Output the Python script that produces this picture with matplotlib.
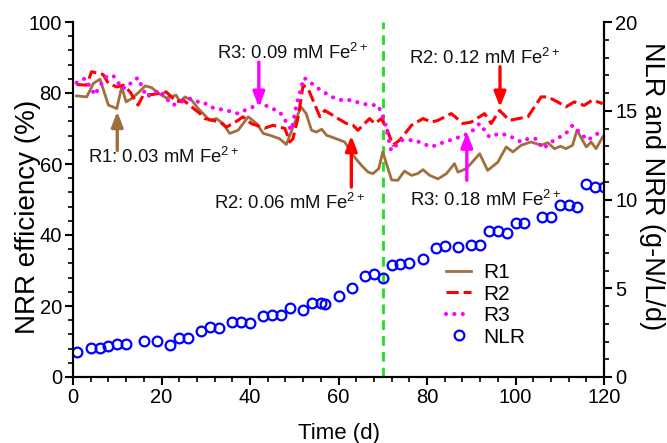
import matplotlib
matplotlib.use("Agg")
import matplotlib.pyplot as plt
from matplotlib.ticker import MultipleLocator

plt.rcParams['font.family'] = ['Liberation Sans', 'DejaVu Sans']
plt.rcParams['mathtext.fontset'] = 'custom'
plt.rcParams['mathtext.rm'] = 'Liberation Sans'
plt.rcParams['mathtext.it'] = 'Liberation Sans:italic'
plt.rcParams['mathtext.default'] = 'regular'

# NRR efficiency of the three reactors (%)
r1_day = [0.8, 3.1, 4.6, 6.1, 8.0, 9.9, 11.0, 12.0, 13.2, 14.7, 16.3, 17.8, 19.3, 21.1, 23.3,
          24.2, 25.3, 26.8, 28.3, 30.9, 32.4, 33.9, 35.4, 37.3, 39.6, 41.5, 43.0, 44.5, 46.7,
          48.2, 51.5, 52.7, 53.9, 55.0, 56.2, 57.3, 59.1, 61.4, 63.3, 65.2, 66.7, 67.8, 69.1,
          70.0, 72.0, 73.4, 74.9, 76.5, 77.9, 79.1, 80.6, 82.5, 84.4, 86.2, 87.0, 88.9, 91.9,
          93.7, 96.0, 97.9, 99.4, 101.3, 103.5, 105.8, 107.3, 108.8, 110.2, 111.4, 112.9,
          113.9, 116.0, 117.1, 118.2, 119.7]
r1_eff = [79.2, 78.9, 82.7, 83.9, 76.6, 75.6, 81.7, 77.5, 78.4, 80.0, 82.0, 81.5, 79.9, 78.6, 79.4,
          77.5, 78.9, 78.0, 75.6, 72.3, 72.8, 71.4, 68.6, 69.5, 73.3, 71.4, 68.6, 68.1, 67.1,
          65.5, 76.1, 74.2, 69.5, 69.0, 69.8, 68.1, 67.3, 66.2, 62.4, 59.6, 57.7, 57.3, 58.7,
          63.4, 55.5, 55.4, 58.0, 56.8, 57.3, 58.4, 56.8, 55.8, 57.3, 60.1, 57.7, 58.7, 62.9,
          58.2, 60.5, 64.8, 63.4, 65.3, 66.2, 65.3, 66.0, 64.3, 65.0, 64.3, 65.3,
          69.5, 64.8, 66.2, 64.3, 67.6]

r2_day = [0.8, 3.1, 4.2, 6.8, 8.0, 9.9, 11.4, 12.9, 14.7, 15.9, 18.1, 21.1, 23.4, 24.9, 28.7,
          29.8, 33.2, 34.7, 37.3, 38.4, 40.3, 43.3, 45.2, 47.9, 49.0, 49.7, 50.9, 52.0, 53.1,
          55.8, 56.9, 59.9, 61.8, 63.3, 64.4, 67.0, 68.2, 69.7, 71.2, 72.3, 73.8, 75.3, 76.5,
          79.1, 81.0, 82.5, 85.5, 88.1, 90.0, 93.0, 94.5, 96.4, 98.6, 102.8, 105.8, 107.3,
          109.5, 111.4, 113.3, 115.5, 117.4, 119.7]
r2_eff = [82.4, 82.2, 86.0, 85.2, 82.7, 81.7, 82.2, 80.3, 76.6, 79.4, 79.6, 80.3, 77.5, 78.0, 74.2,
          72.8, 71.8, 70.4, 72.3, 73.3, 71.4, 70.1, 70.9, 70.0, 66.2, 67.1, 73.3, 82.2, 81.3,
          73.3, 75.1, 72.8, 71.4, 70.9, 69.5, 72.8, 71.4, 72.8, 69.0, 65.3, 66.7, 69.0, 70.9,
          72.8, 71.8, 72.3, 74.2, 71.4, 71.8, 74.2, 71.4, 75.1, 72.3, 73.3, 78.9, 78.9,
          77.5, 76.1, 77.5, 76.5, 78.0, 77.0]

r3_day = [0.8, 2.7, 5.0, 5.7, 7.5, 9.0, 9.9, 11.0, 12.5, 13.2, 14.7, 16.6, 19.6, 21.1, 22.6,
          24.5, 26.4, 28.3, 29.4, 30.9, 32.4, 34.7, 37.3, 38.8, 40.7, 42.2, 44.1, 46.7, 48.2,
          49.4, 50.5, 52.2, 53.5, 55.4, 58.4, 60.7, 62.9, 65.2, 67.4, 68.9, 70.4, 71.9, 74.2,
          77.2, 81.0, 82.8, 86.2, 88.5, 90.4, 91.9, 94.1, 96.4, 98.3, 101.3, 102.8, 104.7,
          106.2, 108.1, 111.4, 112.9, 116.3, 118.6, 119.7]
r3_eff = [82.9, 84.1, 79.4, 81.3, 84.5, 85.0, 83.6, 81.3, 81.7, 83.1, 84.3, 78.9, 80.8, 78.4, 76.6,
          77.5, 78.4, 77.5, 77.5, 76.1, 75.6, 75.1, 74.2, 75.1, 76.1, 77.5, 76.1, 74.7, 71.8,
          69.5, 76.6, 84.3, 83.1, 81.3, 78.9, 78.0, 78.0, 77.0, 76.6, 76.6, 72.3, 63.8, 66.7,
          66.7, 64.8, 65.7, 67.1, 68.1, 69.5, 71.4, 67.6, 68.6, 68.1, 66.2, 67.1, 67.1,
          64.3, 66.2, 68.6, 70.9, 66.7, 68.6, 70.0]

# Nitrogen loading rate (g-N/L/d)
nlr_day = [1, 4, 6, 8, 10, 12, 16, 19, 22, 24, 26, 29, 31, 33, 36, 38, 40, 43, 45, 47, 49,
           52, 54, 56, 57, 60, 63, 66, 68, 70, 72, 74, 76, 79, 82, 84, 87, 90, 92, 94, 96,
           98, 100, 102, 106, 108, 110, 112, 114, 116, 118, 120]
nlr_val = [1.43, 1.64, 1.64, 1.73, 1.85, 1.85, 2.03, 2.03, 1.81, 2.17, 2.18, 2.58, 2.82, 2.75,
           3.12, 3.12, 3.07, 3.46, 3.50, 3.50, 3.88, 3.75, 4.18, 4.18, 4.14, 4.56, 5.02, 5.70,
           5.80, 5.57, 6.29, 6.36, 6.40, 6.67, 7.27, 7.38, 7.34, 7.44, 7.44, 8.25, 8.21, 8.10,
           8.66, 8.70, 9.00, 9.00, 9.70, 9.70, 9.55, 10.88, 10.73, 10.70]

switch_day = 70

brown = "#A0703C"
red = "#FF0000"
magenta = "#FF00FF"

# (text, text x, text y, arrow x, arrow tail y, arrow head y, colour)
notes = [
    ("R1: 0.03 mM Fe$^{2+}$", 20.5, 62.0, 10.0, 63.8, 74.8, brown),
    ("R3: 0.09 mM Fe$^{2+}$", 49.5, 91.3, 42.0, 88.7, 76.0, magenta),
    ("R2: 0.06 mM Fe$^{2+}$", 49.0, 49.0, 62.9, 53.5, 68.0, red),
    ("R2: 0.12 mM Fe$^{2+}$", 93.0, 89.8, 96.5, 87.4, 76.0, red),
    ("R3: 0.18 mM Fe$^{2+}$", 93.3, 50.0, 89.0, 55.4, 69.0, magenta),
]

W, H = 667, 443
fig = plt.figure(figsize=(W / 100, H / 100), dpi=100)
ax = fig.add_axes([73 / W, 1 - 377 / H, 531 / W, 355 / H])
ax2 = ax.twinx()

l1, = ax.plot(r1_day, r1_eff, color=brown, lw=2.0, label="R1")
l2, = ax.plot(r2_day, r2_eff, color=red, lw=2.2, dashes=(4.0, 1.6), label="R2")
l3, = ax.plot(r3_day, r3_eff, color=magenta, lw=3.0, linestyle=(0, (0.01, 2.0)),
              dash_capstyle="round", label="R3")
l4, = ax2.plot(nlr_day, nlr_val, linestyle="none", marker="o", ms=7.0, mfc="none",
               mec="#0000FF", mew=1.6, label="NLR")

ax.axvline(switch_day, color="#22DD22", lw=2.0, dashes=(3.5, 2.2), zorder=1)

for txt, tx, ty, axx, y0, y1, col in notes:
    ax.text(tx, ty, txt, fontsize=13.3, ha="center", va="center", color="#111111")
    ax.annotate("", xy=(axx, y1), xytext=(axx, y0),
                arrowprops=dict(arrowstyle="-|>,head_length=0.9,head_width=0.35",
                                color=col, lw=2.4, shrinkA=0, shrinkB=0))

ax.set_xlim(0, 120)
ax.set_ylim(0, 100)
ax2.set_ylim(0, 20)
ax.xaxis.set_major_locator(MultipleLocator(20))
ax.xaxis.set_minor_locator(MultipleLocator(4))
ax.yaxis.set_major_locator(MultipleLocator(20))
ax.yaxis.set_minor_locator(MultipleLocator(4))
ax2.yaxis.set_major_locator(MultipleLocator(5))
ax2.yaxis.set_minor_locator(MultipleLocator(1))

for a in (ax, ax2):
    a.spines['top'].set_visible(False)
    for s in a.spines.values():
        s.set_linewidth(1.5)
    a.tick_params(which="major", direction="out", length=6, width=1.5, labelsize=14.5, pad=2)
    a.tick_params(which="minor", direction="out", length=3.5, width=1.2)

# Axis titles
fig.text(339 / W, 1 - 433 / H, "Time (d)", fontsize=16, ha="center", va="center")
fig.text(28 / W, 1 - 217 / H, "NRR efficiency (%)", fontsize=20, rotation=90,
         ha="center", va="center")
fig.text(652 / W, 1 - 186 / H, "NLR and NRR (g-N/L/d)", fontsize=19.5, rotation=270,
         ha="center", va="center")

ax.legend(handles=[l1, l2, l3, l4], loc="upper left", bbox_to_anchor=(0.687, 0.344),
          frameon=False, fontsize=15, handlelength=1.2, handletextpad=0.6,
          labelspacing=0.12, borderaxespad=0)

fig.savefig("out.png", dpi=100)
